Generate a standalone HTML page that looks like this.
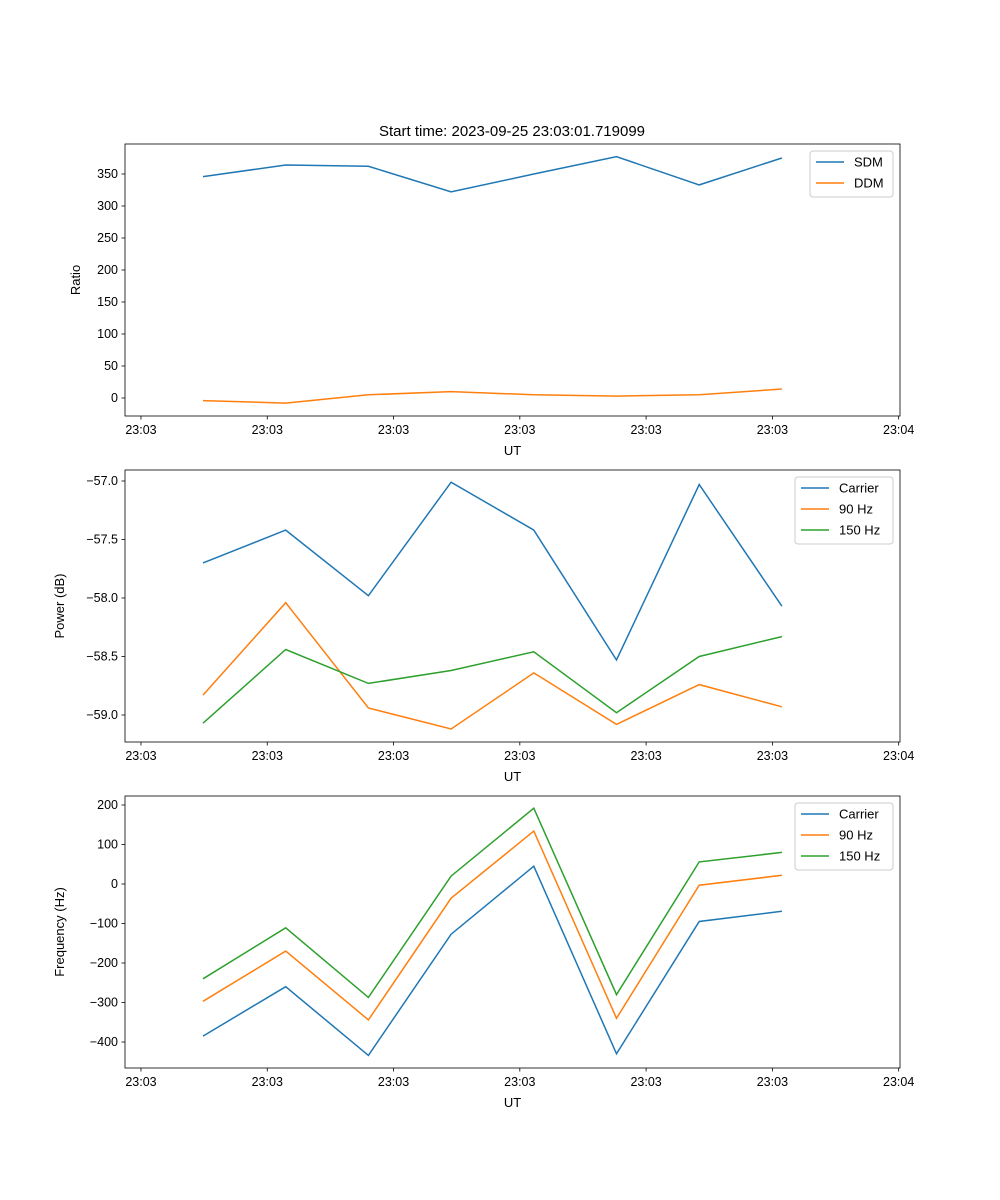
<!DOCTYPE html>
<html><head><meta charset="utf-8"><style>
body{margin:0;background:#fff;}
svg{display:block;font-family:"Liberation Sans","DejaVu Sans",sans-serif;}
</style></head><body>
<svg id="chart" width="1000" height="1200" viewBox="0 0 1000 1200">
<text x="512" y="136" font-size="15" text-anchor="middle">Start time: 2023-09-25 23:03:01.719099</text>
</svg>
<script>
const sampleIndex = [0,1,2,3,4,5,6,7];
const xTickLabels = ["23:03","23:03","23:03","23:03","23:03","23:03","23:04"];
const sdmValues = [346,364,362,322,350,377,333,375];
const ddmValues = [-4,-8,5,10,5,3,5,14];
const ratioTicks = [0,50,100,150,200,250,300,350];
const powerCarrier = [-57.70,-57.42,-57.98,-57.01,-57.42,-58.53,-57.03,-58.07];
const power90 = [-58.83,-58.04,-58.94,-59.12,-58.64,-59.08,-58.74,-58.93];
const power150 = [-59.07,-58.44,-58.73,-58.62,-58.46,-58.98,-58.50,-58.33];
const powerTicks = [-59.0,-58.5,-58.0,-57.5,-57.0];
const freqCarrier = [-385,-260,-434,-127,45,-430,-95,-69];
const freq90 = [-297,-170,-344,-36,134,-340,-3,22];
const freq150 = [-240,-111,-287,20,192,-280,56,80];
const freqTicks = [-400,-300,-200,-100,0,100,200];

const svg = document.getElementById('chart');
const NS = 'http://www.w3.org/2000/svg';
function mk(tag, attrs, parent){const e=document.createElementNS(NS,tag);for(const k in attrs)e.setAttribute(k,attrs[k]);(parent||svg).appendChild(e);return e;}
const L=125,R=900;
function xScale(i){return 203+i*82.7;}
const tickStartIdx=-0.75, tickStepIdx=1.527;
const C=['#1f77b4','#ff7f0e','#2ca02c'];

function panel(name, top, bottom, yLabel, v0, p0, v1, p1, ticks, fmt, series, labels, legendX, legendW){
  const g=mk('g',{});
  
  
  const y=v=>p0+(v-v0)*(p1-p0)/(v1-v0);
  series.forEach((s,si)=>{
    const pts=sampleIndex.map((i,k)=>xScale(i).toFixed(1)+','+y(s[k]).toFixed(1)).join(' ');
    const pl=mk('polyline',{points:pts,fill:'none',stroke:C[si],'stroke-width':1.5},g);
    
    
  });
  const fr=mk('rect',{x:L,y:top,width:R-L,height:bottom-top,fill:'none',stroke:'#000','stroke-width':0.8},g);
  
  
  ticks.forEach(t=>{
    const yy=y(t);
    mk('line',{x1:L-3.5,x2:L,y1:yy,y2:yy,stroke:'#000','stroke-width':0.8},g);
    const tx=mk('text',{x:L-7,y:yy+4,'font-size':12.5,'text-anchor':'end'},g);
    tx.textContent=fmt(t);
    
    
  });
  xTickLabels.forEach((lab,k)=>{
    const xx=xScale(tickStartIdx+k*tickStepIdx);
    mk('line',{x1:xx,x2:xx,y1:bottom,y2:bottom+3.5,stroke:'#000','stroke-width':0.8},g);
    const tx=mk('text',{x:xx,y:bottom+18,'font-size':12.5,'text-anchor':'middle'},g);
    tx.textContent=lab;
    
    
  });
  const xl=mk('text',{x:(L+R)/2,y:bottom+39,'font-size':13,'text-anchor':'middle'},g);
  xl.textContent='UT';
  
  
  const cy=(top+bottom)/2;
  const yl=mk('text',{x:0,y:0,'font-size':13,'text-anchor':'middle',transform:`translate(${name==='ratio'?80:64},${cy}) rotate(-90)`},g);
  yl.textContent=yLabel;
  
  
  const lg=mk('g',{},g);
  
  
  const lh=4+labels.length*21;
  mk('rect',{x:legendX,y:top+7,width:legendW,height:lh,rx:3,fill:'#fff',stroke:'#ccc','stroke-width':1},lg);
  labels.forEach((lab,k)=>{
    const ly=top+18+k*21;
    mk('line',{x1:legendX+6,x2:legendX+34,y1:ly,y2:ly,stroke:C[k],'stroke-width':1.5},lg);
    const t=mk('text',{x:legendX+44,y:ly+4.5,'font-size':13},lg);
    t.textContent=lab;
    
    
  });
}
panel('ratio',144,416,'Ratio',0,398,350,174,ratioTicks,t=>String(t),[sdmValues,ddmValues],['SDM','DDM'],810,83);
panel('power',470,742,'Power (dB)',-57.0,481,-59.0,715,powerTicks,t=>t.toFixed(1).replace('-','\u2212'),[powerCarrier,power90,power150],['Carrier','90 Hz','150 Hz'],795,98);
panel('frequency',796,1068,'Frequency (Hz)',200,805,-400,1042,freqTicks,t=>String(t).replace('-','\u2212'),[freqCarrier,freq90,freq150],['Carrier','90 Hz','150 Hz'],795,98);
</script>
</body></html>
